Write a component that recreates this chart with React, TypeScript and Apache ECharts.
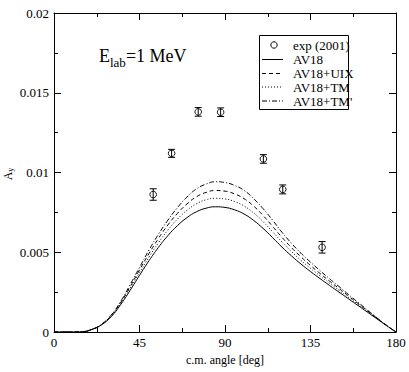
import React, { useEffect, useRef } from "react";
import * as echarts from "echarts";

const angles = [0, 10, 15, 20, 25, 30, 35, 40, 45, 50, 55, 60, 65, 70, 75, 80, 85, 90, 95, 100, 105, 110, 115, 120, 125, 130, 135, 140, 145, 150, 155, 160, 165, 170, 175, 180];
const av18 = [0, 0, 0.00002, 0.00016, 0.00045, 0.00095, 0.0017, 0.0026, 0.00355, 0.00447, 0.00531, 0.00605, 0.00667, 0.00717, 0.00754, 0.00776, 0.00785, 0.00781, 0.00766, 0.0074, 0.007, 0.0065, 0.00592, 0.00532, 0.00477, 0.00426, 0.00379, 0.00335, 0.00292, 0.0025, 0.00208, 0.00166, 0.00124, 0.00082, 0.0004, 0];
const av18uix = [0, 0, 0.00002, 0.00017, 0.00047, 0.00102, 0.00184, 0.00283, 0.00389, 0.00492, 0.00587, 0.00672, 0.00744, 0.00803, 0.00848, 0.00875, 0.00887, 0.00883, 0.00866, 0.00836, 0.0079, 0.00731, 0.00663, 0.00593, 0.00529, 0.00471, 0.00417, 0.00367, 0.00319, 0.00273, 0.00226, 0.00179, 0.00133, 0.00087, 0.00042, 0];
const av18tm = [0, 0, 0.00002, 0.00016, 0.00046, 0.00098, 0.00177, 0.00272, 0.00372, 0.0047, 0.0056, 0.0064, 0.00708, 0.00763, 0.00804, 0.00829, 0.00838, 0.00834, 0.00818, 0.0079, 0.00747, 0.00692, 0.00629, 0.00564, 0.00504, 0.00449, 0.00399, 0.00352, 0.00306, 0.00262, 0.00217, 0.00173, 0.00128, 0.00084, 0.00041, 0];
const av18tmp = [0, 0, 0.00002, 0.00017, 0.00049, 0.00105, 0.0019, 0.00295, 0.00405, 0.00514, 0.00613, 0.00702, 0.0078, 0.00846, 0.00897, 0.00927, 0.00942, 0.00937, 0.00919, 0.00888, 0.00837, 0.00774, 0.00702, 0.00625, 0.00556, 0.00494, 0.00438, 0.00385, 0.00334, 0.00285, 0.00235, 0.00186, 0.00138, 0.00089, 0.00042, 0];

const expAngles = [52.2, 61.9, 75.9, 87.7, 110.2, 120.4, 141.1];
const expValues = [0.00862, 0.0112, 0.0138, 0.01378, 0.01085, 0.00894, 0.00531];
const expErrors = [0.00036, 0.00025, 0.00027, 0.00027, 0.00027, 0.00028, 0.00036];

const xTicks = [0, 45, 90, 135, 180];
const legendNames = ["exp (2001)", "AV18", "AV18+UIX", "AV18+TM", "AV18+TM'"];

const FONT = "'Liberation Serif', 'Times New Roman', Times, serif";

const DASH: Record<string, number[] | null> = {
  "AV18": null,
  "AV18+UIX": [4, 3],
  "AV18+TM": [1, 2],
  "AV18+TM'": [5, 2, 1, 2],
};

export default function App() {
  const ref = useRef<HTMLDivElement>(null);
  useEffect(() => {
    if (!ref.current) return;
    const chart = echarts.init(ref.current, undefined, { renderer: "svg" });
    const mk = (ys: number[]) => angles.map((a, i) => [a, ys[i]]);
    const axisCommon = {
      axisLine: { show: true, onZero: false, lineStyle: { color: "#000", width: 1 } },
      axisTick: { show: true, inside: true, length: 7, lineStyle: { color: "#000" } },
      minorTick: { show: true, splitNumber: 2, length: 4, lineStyle: { color: "#000" } },
      splitLine: { show: false },
    };
    const rowY = [45, 59.5, 73.5, 87, 101];
    const legendGraphics: any[] = [
      { type: "rect", shape: { x: 259.5, y: 35.5, width: 89, height: 74 }, style: { fill: "#fff", stroke: "#000", lineWidth: 1 }, z: 10 },
      { type: "circle", shape: { cx: 274, cy: rowY[0], r: 3.2 }, style: { fill: "none", stroke: "#000", lineWidth: 1 }, z: 11 },
    ];
    legendNames.forEach((n, i) => {
      if (i > 0) {
        const d = DASH[n];
        legendGraphics.push({
          type: "line", shape: { x1: 262, y1: rowY[i], x2: 283, y2: rowY[i] },
          style: { stroke: "#000", lineWidth: 1, lineDash: d || undefined }, z: 11,
        });
      }
      legendGraphics.push({
        type: "text", x: 293, y: rowY[i],
        style: { text: n, fontFamily: FONT, fontSize: 13, fill: "#000", verticalAlign: "middle", align: "left" }, z: 11,
      });
    });
    const lineSeries = (name: string, ys: number[]) => ({
      name, type: "line", data: mk(ys), smooth: 0.5, symbol: "none",
      lineStyle: { color: "#000", width: 1, type: DASH[name] || "solid" },
    });
    const option: any = {
      animation: false,
      backgroundColor: "#fff",
      textStyle: { fontFamily: FONT },
      grid: { left: 54, right: 13, top: 13, bottom: 40, containLabel: false },
      xAxis: [
        {
          type: "value", min: xTicks[0], max: xTicks[xTicks.length - 1], interval: 45, position: "bottom",
          ...axisCommon,
          axisLabel: { color: "#000", fontFamily: FONT, fontSize: 13, margin: 4 },
          name: "c.m. angle [deg]", nameLocation: "middle", nameGap: 18,
          nameTextStyle: { color: "#000", fontFamily: FONT, fontSize: 12 },
        },
        {
          type: "value", min: 0, max: 180, interval: 45, position: "top",
          ...axisCommon, axisLabel: { show: false },
        },
      ],
      yAxis: [
        {
          type: "value", min: 0, max: 0.02, interval: 0.005, position: "left",
          ...axisCommon,
          axisLabel: { color: "#000", fontFamily: FONT, fontSize: 13, margin: 5 },
        },
        {
          type: "value", min: 0, max: 0.02, interval: 0.005, position: "right",
          ...axisCommon, axisLabel: { show: false },
        },
      ],
      graphic: [
        {
          type: "text", left: 99, top: 47,
          style: {
            text: "{a|E}{b|lab}{a|=1 MeV}",
            rich: {
              a: { fontFamily: FONT, fontSize: 18, fill: "#000", verticalAlign: "bottom" },
              b: { fontFamily: FONT, fontSize: 13, fill: "#000", padding: [0, 0, -4, 0], verticalAlign: "bottom" },
            },
          },
        },
        {
          type: "text", x: 8, y: 174, rotation: Math.PI / 2,
          style: {
            text: "{a|A}{b|y}",
            align: "center", verticalAlign: "middle",
            rich: {
              a: { fontFamily: FONT, fontSize: 12, fill: "#000" },
              b: { fontFamily: FONT, fontSize: 8, fill: "#000", padding: [5, 0, 0, 0] },
            },
          },
        },
        ...legendGraphics,
      ],
      series: [
        {
          name: "exp (2001)", type: "custom",
          data: expAngles.map((a, i) => [a, expValues[i], expErrors[i]]),
          renderItem: (params: any, api: any) => {
            const a = api.value(0), v = api.value(1), e = api.value(2);
            const c = api.coord([a, v]);
            const top = api.coord([a, v + e]);
            const bot = api.coord([a, v - e]);
            const st = { stroke: "#000", lineWidth: 1 };
            return {
              type: "group",
              children: [
                { type: "line", shape: { x1: top[0], y1: top[1], x2: bot[0], y2: bot[1] }, style: st },
                { type: "line", shape: { x1: top[0] - 3.5, y1: top[1], x2: top[0] + 3.5, y2: top[1] }, style: st },
                { type: "line", shape: { x1: bot[0] - 3.5, y1: bot[1], x2: bot[0] + 3.5, y2: bot[1] }, style: st },
                { type: "circle", shape: { cx: c[0], cy: c[1], r: 3.3 }, style: { fill: "#fff", stroke: "#000", lineWidth: 0.9 } },
                { type: "line", shape: { x1: c[0], y1: c[1] - 3.3, x2: c[0], y2: c[1] + 3.3 }, style: st },
              ],
            };
          },
          z: 4,
        },
        lineSeries("AV18", av18),
        lineSeries("AV18+UIX", av18uix),
        lineSeries("AV18+TM", av18tm),
        lineSeries("AV18+TM'", av18tmp),
      ],
    };
    chart.setOption(option);
    return () => chart.dispose();
  }, []);
  return <div ref={ref} style={{ width: 409, height: 372, position: "absolute", left: 0, top: 0 }} />;
}
